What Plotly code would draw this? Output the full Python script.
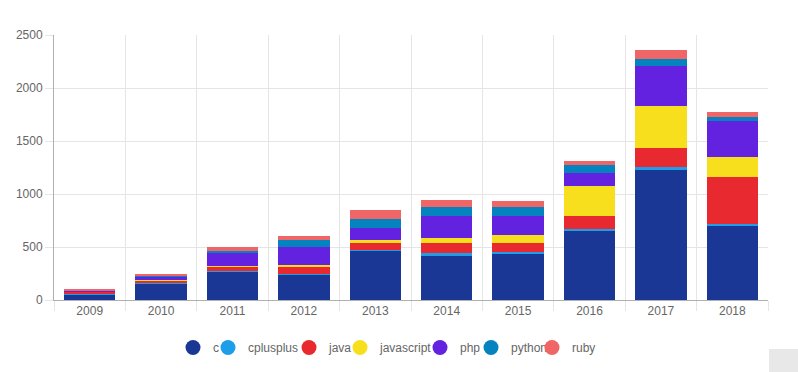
import plotly.graph_objects as go

years = ['2009', '2010', '2011', '2012', '2013', '2014', '2015', '2016', '2017', '2018']
c = [56, 157, 270, 242, 467, 424, 434, 660, 1230, 707]
cplusplus = [2, 3, 3, 5, 5, 16, 19, 12, 22, 9]
java = [25, 28, 42, 63, 66, 94, 82, 123, 183, 443]
javascript = [0, 2, 2, 22, 28, 53, 79, 283, 393, 192]
php = [6, 23, 125, 167, 113, 204, 179, 116, 378, 336]
python = [2, 20, 25, 63, 85, 82, 88, 75, 65, 44]
ruby = [4, 9, 30, 38, 85, 69, 53, 38, 85, 40]

series_names = ['c', 'cplusplus', 'java', 'javascript', 'php', 'python', 'ruby']
series_values = [c, cplusplus, java, javascript, php, python, ruby]
colors = ['#1b3795', '#1e9ee8', '#e8292f', '#f7df1e', '#6321e0', '#0583bf', '#f06565']

# layout: plot area in pixels
W, H = 798, 372
L, R, T, B = 54, 30, 35, 72
plot_w = W - L - R
plot_h = H - T - B
# legend entry left edges (px)
legend_left_px = [173, 208, 289, 340, 420, 471, 532]
legend_y_px = 347.5

fig = go.Figure()
for name, vals, col in zip(series_names, series_values, colors):
    fig.add_trace(go.Bar(x=years, y=vals, name=name, marker=dict(color=col, line=dict(width=0)),
                         showlegend=False))

legend_layouts = {}
for i, (name, col) in enumerate(zip(series_names, colors)):
    lname = 'legend' if i == 0 else f'legend{i + 1}'
    fig.add_trace(go.Scatter(x=[None], y=[None], mode='markers', name=name, legend=lname,
                             marker=dict(symbol='circle', size=15, color=col)))
    legend_layouts[lname] = dict(
        x=(legend_left_px[i] - L) / plot_w, xanchor='left',
        y=(H - B - legend_y_px) / plot_h, yanchor='middle',
        orientation='h', bgcolor='rgba(0,0,0,0)', borderwidth=0,
        font=dict(family='Liberation Sans, Arial, sans-serif', size=12, color='#666666'),
        itemwidth=30)

font = dict(family='Liberation Sans, Arial, sans-serif', size=12, color='#666666')
fig.update_layout(
    barmode='stack', bargap=0.28,
    width=W, height=H,
    margin=dict(l=L, r=R, t=T, b=B, autoexpand=False),
    paper_bgcolor='white', plot_bgcolor='white',
    font=font,
    showlegend=True,
    xaxis=dict(type='category', tickson='boundaries', showgrid=True, gridcolor='#e5e5e5',
               ticks='outside', ticklen=10, tickcolor='#e5e5e5', showline=True,
               linecolor='#b0b0b0', linewidth=1, zeroline=False),
    yaxis=dict(range=[0, 2500], dtick=500, showgrid=True, gridcolor='#e5e5e5',
               ticks='outside', ticklen=8, tickcolor='#e5e5e5', showline=True,
               linecolor='#b0b0b0', linewidth=1, zeroline=False),
    shapes=[dict(type='rect', xref='paper', yref='paper',
                 x0=(769 - L) / plot_w, x1=(W + 5 - L) / plot_w,
                 y0=(H - B - H - 5) / plot_h, y1=(H - B - 349) / plot_h,
                 fillcolor='#e8e8e8', line=dict(width=0), layer='above')],
    **legend_layouts,
)
fig.write_html('out.html', config={'displayModeBar': False},
               post_script="document.body.style.margin='0';")
